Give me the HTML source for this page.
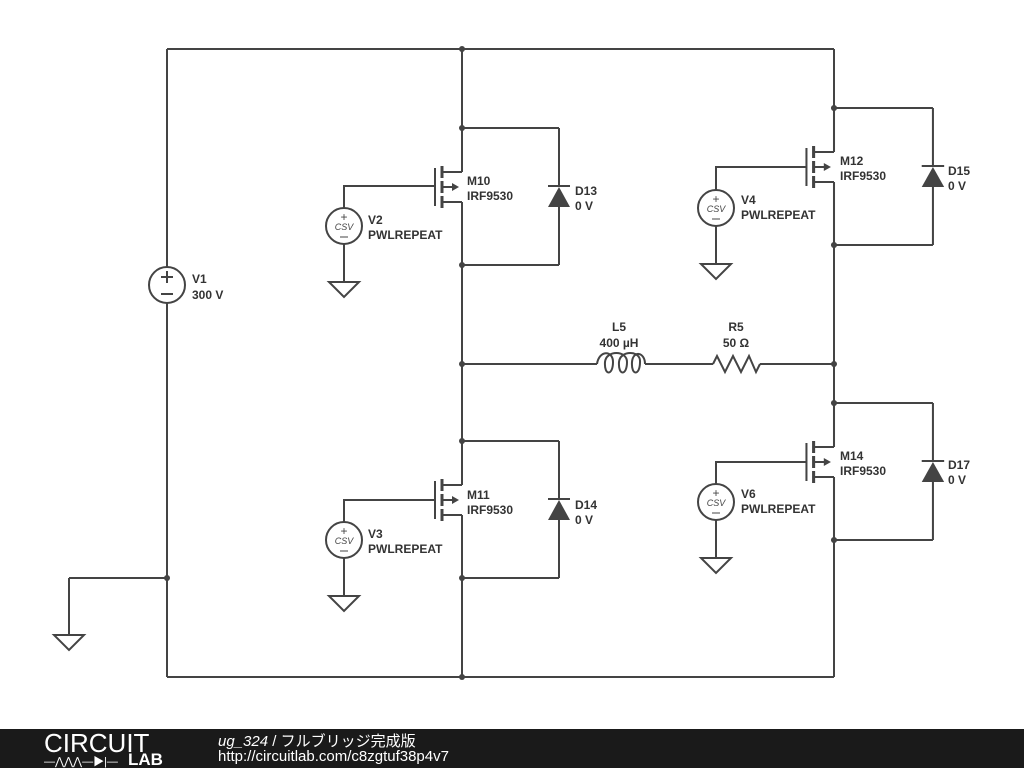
<!DOCTYPE html>
<html><head><meta charset="utf-8"><style>
body{margin:0;width:1024px;height:768px;background:#fff;overflow:hidden;position:relative;font-family:"Liberation Sans","Noto Sans CJK JP",sans-serif}
.bar{position:absolute;left:0;top:729px;width:1024px;height:39px;background:#1a1a1a}
</style></head><body>
<svg width="1024" height="729" viewBox="0 0 1024 729" style="position:absolute;left:0;top:0" font-family="Liberation Sans, sans-serif">
<defs>
<g id="mos">
 <line x1="0" y1="0" x2="0" y2="44" />
 <line x1="0" y1="74" x2="0" y2="137" />
 <line x1="-20" y1="44" x2="0" y2="44"/>
 <line x1="-20" y1="74" x2="0" y2="74"/>
 <line x1="-20" y1="59" x2="-6" y2="59"/>
 <polygon points="-3,59 -10,55 -10,63" fill="#444" stroke="none"/>
 <line x1="-20" y1="38" x2="-20" y2="50" stroke-width="3"/>
 <line x1="-20" y1="53" x2="-20" y2="65" stroke-width="3"/>
 <line x1="-20" y1="68" x2="-20" y2="80" stroke-width="3"/>
 <line x1="-27" y1="40" x2="-27" y2="78"/>
 <line x1="0" y1="0" x2="97" y2="0"/>
 <line x1="0" y1="137" x2="97" y2="137"/>
 <line x1="97" y1="0" x2="97" y2="58"/>
 <line x1="97" y1="79" x2="97" y2="137"/>
 <line x1="86" y1="58" x2="108" y2="58"/>
 <polygon points="97,59 86,79 108,79" fill="#444" stroke="none"/>
 <circle cx="0" cy="0" r="3" fill="#444" stroke="none"/>
 <circle cx="0" cy="137" r="3" fill="#444" stroke="none"/>
</g>
<g id="src">
 <circle cx="0" cy="0" r="18" fill="none"/>
 <line x1="0" y1="18" x2="0" y2="56"/>
 <polygon points="-15,56 15,56 0,71" fill="none"/>
 <text x="0" y="-5" font-size="12" text-anchor="middle" fill="#444" stroke="none">+</text>
 <text x="0" y="4" font-size="9" font-style="italic" text-anchor="middle" fill="#444" stroke="none">CSV</text>
 <line x1="-4" y1="11" x2="4" y2="11" stroke-width="1"/>
</g>
</defs>
<g stroke="#444" stroke-width="2" fill="none">
 <line x1="167" y1="49" x2="834" y2="49"/>
 <line x1="167" y1="677" x2="834" y2="677"/>
 <line x1="167" y1="49" x2="167" y2="267"/>
 <line x1="167" y1="303" x2="167" y2="677"/>
 <line x1="462" y1="49" x2="462" y2="128"/>
 <line x1="462" y1="265" x2="462" y2="441"/>
 <line x1="462" y1="578" x2="462" y2="677"/>
 <line x1="834" y1="49" x2="834" y2="108"/>
 <line x1="834" y1="245" x2="834" y2="403"/>
 <line x1="834" y1="540" x2="834" y2="677"/>
 <circle cx="167" cy="285" r="18"/>
 <line x1="161" y1="277" x2="173" y2="277"/><line x1="167" y1="271" x2="167" y2="283"/>
 <line x1="161" y1="294" x2="173" y2="294"/>
 <line x1="167" y1="578" x2="69" y2="578"/>
 <line x1="69" y1="578" x2="69" y2="635"/>
 <polygon points="54,635 84,635 69,650"/>
 <use href="#mos" transform="translate(462,128)"/>
 <use href="#mos" transform="translate(462,441)"/>
 <use href="#mos" transform="translate(834,108) scale(1.02,1)"/>
 <use href="#mos" transform="translate(834,403) scale(1.02,1)"/>
 <polyline points="435,186 344,186 344,208"/>
 <polyline points="435,500 344,500 344,522"/>
 <polyline points="807,167 716,167 716,190"/>
 <polyline points="807,462 716,462 716,484"/>
 <use href="#src" transform="translate(344,226)"/>
 <use href="#src" transform="translate(344,540)"/>
 <use href="#src" transform="translate(716,208)"/>
 <use href="#src" transform="translate(716,502)"/>
 <line x1="462" y1="364" x2="597" y2="364"/>
 <path d="M597,364 C599,350 613,350 613,362 C613,376 604,376 605,362 C606,350 627,350 627,362 C627,376 618,376 619,362 C620,350 641,350 640,362 C640,376 631,376 632,362 C633,350 645,352 645,364"/>
 <line x1="645" y1="364" x2="713" y2="364"/>
 <polyline points="713,364 717,356 725,372 733,356 741,372 749,356 756,372 760,364"/>
 <line x1="760" y1="364" x2="834" y2="364"/>
 <circle cx="462" cy="49" r="3" fill="#444" stroke="none"/>
 <circle cx="462" cy="364" r="3" fill="#444" stroke="none"/>
 <circle cx="462" cy="677" r="3" fill="#444" stroke="none"/>
 <circle cx="834" cy="364" r="3" fill="#444" stroke="none"/>
 <circle cx="167" cy="578" r="3" fill="#444" stroke="none"/>
</g>
<g font-size="12" font-weight="bold" fill="#333">
 <text x="192" y="283">V1</text><text x="192" y="299">300 V</text>
 <text x="467" y="185">M10</text><text x="467" y="200">IRF9530</text>
 <text x="575" y="195">D13</text><text x="575" y="210">0 V</text>
 <text x="368" y="224">V2</text><text x="368" y="239">PWLREPEAT</text>
 <text x="467" y="499">M11</text><text x="467" y="514">IRF9530</text>
 <text x="575" y="509">D14</text><text x="575" y="524">0 V</text>
 <text x="368" y="538">V3</text><text x="368" y="553">PWLREPEAT</text>
 <text x="840" y="165">M12</text><text x="840" y="180">IRF9530</text>
 <text x="948" y="175">D15</text><text x="948" y="190">0 V</text>
 <text x="741" y="204">V4</text><text x="741" y="219">PWLREPEAT</text>
 <text x="840" y="460">M14</text><text x="840" y="475">IRF9530</text>
 <text x="948" y="469">D17</text><text x="948" y="484">0 V</text>
 <text x="741" y="498">V6</text><text x="741" y="513">PWLREPEAT</text>
 <text x="619" y="331" text-anchor="middle">L5</text><text x="619" y="347" text-anchor="middle">400 µH</text>
 <text x="736" y="331" text-anchor="middle">R5</text><text x="736" y="347" text-anchor="middle">50 Ω</text>
</g>
</svg>
<div class="bar">
 <div style="position:absolute;left:44px;top:-1px;color:#fff;font-size:26px;letter-spacing:0px">CIRCUIT</div>
 <div style="position:absolute;left:44px;top:24px;color:#fff;font-size:11px">—⋀⋀⋀—▶|—</div>
 <div style="position:absolute;left:128px;top:21px;color:#fff;font-size:17px;font-weight:bold">LAB</div>
 <div style="position:absolute;left:218px;top:1px;color:#fff;font-size:15px"><i>ug_324</i> / フルブリッジ完成版</div>
 <div style="position:absolute;left:218px;top:19px;color:#fff;font-size:15px">http://circuitlab.com/c8zgtuf38p4v7</div>
</div>
</body></html>
